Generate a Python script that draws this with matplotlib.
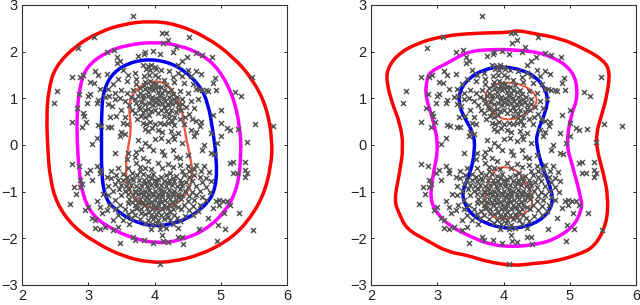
import numpy as np
import matplotlib
matplotlib.use("Agg")
import matplotlib.pyplot as plt
from matplotlib.path import Path
from matplotlib.patches import PathPatch

plt.rcParams['font.family'] = ['Liberation Sans', 'DejaVu Sans']

# puntos dispersos, los mismos en los dos paneles
outer_points = [
    (3.68, 2.76), (3.08, 2.31), (2.84, 2.07), (4.12, 2.39), (4.18, 2.39), (4.52, 2.31), (4.13, 2.19), (4.2, 2.25),
    (4.33, 2.11), (4.28, 2.0), (3.28, 2.0), (3.39, 2.04), (3.98, 2.02), (3.85, 2.0), (3.84, 1.95), (3.75, 1.91),
    (4.09, 1.95), (3.44, 1.88), (3.48, 1.81), (3.44, 1.75), (4.63, 1.98), (4.71, 1.93), (4.87, 1.88), (4.49, 1.88),
    (4.41, 1.81), (4.36, 1.71), (2.76, 1.46), (2.87, 1.45), (2.92, 1.5), (3.1, 1.59), (3.15, 1.5), (3.28, 1.52),
    (3.03, 1.36), (3.08, 1.32), (3.18, 1.21), (2.86, 1.09), (3.02, 1.09), (3.0, 1.04), (2.53, 1.16), (2.48, 0.89),
    (2.83, 0.79), (2.98, 0.91), (3.13, 0.89), (3.15, 0.96), (2.92, 0.68), (2.93, 0.62), (2.75, 0.5), (2.97, 0.5),
    (2.91, 0.38), (3.15, 0.43), (3.19, 0.41), (3.33, 0.61), (3.3, 0.39), (3.35, 0.39), (3.13, 0.14), (3.05, 0.02),
    (3.4, -0.18), (2.75, -0.41), (2.86, -0.44), (3.13, -0.44), (3.18, -0.54), (3.03, -0.54), (2.98, -0.61),
    (3.05, -0.76), (3.18, -0.61), (2.87, -0.75), (2.91, -0.84), (2.78, -0.91), (2.82, -1.04), (2.87, -0.89),
    (2.72, -1.26), (2.95, -1.39), (3.0, -1.32), (3.13, -1.21), (3.18, -1.32), (3.2, -1.46), (3.05, -1.57),
    (3.1, -1.61), (3.1, -1.77), (3.18, -1.79), (3.25, -1.75), (3.38, -1.82), (3.45, -1.75), (3.48, -2.09),
    (3.68, -1.98), (3.7, -2.04), (3.84, -2.04), (3.98, -2.09), (4.13, -2.05), (4.2, -2.07), (4.12, -1.93),
    (4.36, -1.98), (4.41, -1.98), (4.43, -2.13), (4.08, -2.54), (4.67, -1.79), (4.81, -1.57), (4.94, -2.05),
    (4.96, -1.71), (5.07, -1.81), (5.48, -1.82), (5.27, -1.46), (5.05, -1.46), (4.98, -1.18), (5.04, -1.19),
    (5.09, -1.21), (5.14, -1.29), (4.93, -1.21), (4.88, -1.36), (4.98, -1.29), (5.14, -0.39), (5.19, -0.36),
    (5.36, -0.36), (5.36, -0.54), (5.39, -0.61), (5.36, -0.68), (5.19, -0.61), (5.24, -0.61), (5.39, 0.07),
    (5.79, 0.41), (5.52, 0.44), (5.47, 1.45), (5.21, 1.13), (5.3, 1.06), (5.01, 0.76), (5.01, 0.48), (4.88, 0.64),
    (5.09, 0.36), (5.14, 0.32), (5.26, 0.34), (4.91, 1.43), (4.88, 1.32), (4.93, 1.18), (4.78, 1.18), (4.8, 1.15),
    (4.72, 1.18), (4.67, 1.21), (4.62, 1.19), (5.0, 0.2), (4.95, 0.05), (4.85, 0.25), (4.75, 0.0), (4.72, -0.1),
    (4.85, -0.18), (4.9, -0.2), (4.6, 0.2), (4.68, 0.4),
]

upper_points = [
    (3.82, 1.72), (3.9, 1.7), (3.95, 1.72), (4.0, 1.68), (3.87, 1.62), (3.93, 1.6), (4.02, 1.62), (4.1, 1.6),
    (4.22, 1.58), (4.35, 1.55), (4.5, 1.6), (4.62, 1.58), (4.7, 1.52), (4.55, 1.48), (4.42, 1.48), (4.28, 1.45),
    (3.7, 1.55), (3.6, 1.5), (3.52, 1.6), (3.45, 1.42), (3.38, 1.3), (3.3, 1.2), (3.58, 1.38), (3.72, 1.42),
    (3.84, 1.48), (3.92, 1.5), (4.0, 1.5), (4.06, 1.45), (4.15, 1.4), (4.3, 1.35), (4.45, 1.32), (4.58, 1.3),
    (3.85, 1.36), (3.93, 1.38), (3.97, 1.33), (4.03, 1.3), (4.1, 1.25), (4.18, 1.28), (4.25, 1.18), (4.38, 1.15),
    (4.5, 1.12), (3.4, 1.12), (3.5, 1.18), (3.58, 1.12), (3.68, 1.18), (3.78, 1.22), (3.86, 1.2), (3.92, 1.22),
    (3.98, 1.18), (4.05, 1.14), (4.12, 1.12), (3.25, 1.02), (3.32, 1.05), (3.4, 0.98), (3.48, 1.0), (3.55, 0.95),
    (3.65, 1.02), (3.75, 1.05), (3.82, 1.08), (3.9, 1.05), (3.96, 1.02), (4.02, 1.0), (4.08, 1.05), (4.15, 1.0),
    (4.22, 1.02), (4.3, 0.98), (4.42, 0.98), (4.55, 0.95), (4.65, 0.98), (3.3, 0.88), (3.36, 0.84), (3.62, 0.85),
    (3.72, 0.9), (3.8, 0.92), (3.86, 0.88), (3.92, 0.9), (3.98, 0.85), (4.05, 0.88), (4.12, 0.9), (4.2, 0.86),
    (4.27, 0.88), (4.35, 0.85), (4.48, 0.82), (4.6, 0.8), (3.5, 0.75), (3.66, 0.74), (3.78, 0.78), (3.85, 0.74),
    (3.9, 0.78), (4.0, 0.74), (4.1, 0.76), (4.18, 0.72), (4.25, 0.76), (4.33, 0.7), (4.4, 0.74), (4.52, 0.66),
    (3.42, 0.62), (3.55, 0.6), (3.8, 0.62), (3.86, 0.6), (3.92, 0.65), (4.15, 0.62), (4.22, 0.58), (4.3, 0.6),
    (4.56, 0.56), (4.62, 0.52), (3.52, 0.48), (3.58, 0.44), (3.82, 0.48), (3.87, 0.45), (3.93, 0.5), (4.0, 0.45),
    (4.08, 0.48), (4.14, 0.44), (4.2, 0.48), (4.3, 0.42), (4.45, 0.45), (4.7, 0.5), (3.5, 0.28), (3.55, 0.24),
    (3.48, 0.2), (3.85, 0.35), (3.9, 0.3), (3.96, 0.36), (4.05, 0.32), (4.12, 0.28), (4.25, 0.3), (4.28, 0.2),
    (4.35, 0.25), (4.55, 0.32), (4.62, 0.28),
]

upper_core = [
    (3.72, 1.3), (3.78, 1.12), (3.84, 1.28), (3.9, 1.14), (3.95, 1.26), (4.01, 1.22), (4.06, 1.24), (4.14, 1.18),
    (4.2, 1.14), (4.28, 1.1), (4.34, 1.02), (3.7, 0.98), (3.76, 0.82), (3.83, 1.0), (3.94, 0.96), (4.0, 0.92),
    (4.07, 0.96), (4.16, 0.94), (4.24, 0.95), (4.32, 0.92), (4.42, 0.88), (3.7, 0.68), (3.82, 0.7), (3.95, 0.72),
    (4.05, 0.68), (4.14, 0.82), (4.22, 0.66), (4.36, 0.78), (4.46, 0.6), (3.74, 0.55), (4.26, 0.52), (4.38, 0.55),
]

bridge_points = [
    (3.75, 0.1), (3.85, 0.05), (4.0, 0.12), (4.1, 0.14), (4.2, 0.08), (4.3, 0.12), (4.42, 0.04), (3.8, -0.08),
    (3.92, -0.02), (3.98, -0.1), (4.12, -0.12), (4.28, -0.1), (3.6, -0.18), (3.72, -0.15), (3.7, -0.25),
    (3.82, -0.28), (4.15, -0.22), (4.32, -0.25), (4.38, -0.28), (4.5, -0.22), (3.58, -0.3),
]

lower_points = [
    (3.72, -0.38), (3.9, -0.35), (4.05, -0.38), (4.2, -0.4), (4.38, -0.42), (4.5, -0.45), (4.62, -0.42), (4.75, -0.44),
    (3.35, -0.55), (3.45, -0.5), (3.6, -0.5), (3.78, -0.48), (3.86, -0.5), (3.95, -0.52), (4.12, -0.5), (4.28, -0.48),
    (4.42, -0.55), (4.52, -0.55), (4.6, -0.52), (4.7, -0.55), (4.82, -0.58), (3.28, -0.68), (3.34, -0.7), (3.42, -0.65),
    (3.52, -0.62), (3.58, -0.68), (3.66, -0.6), (3.74, -0.65), (3.82, -0.62), (3.9, -0.66), (3.98, -0.62),
    (4.18, -0.65), (4.24, -0.6), (4.33, -0.66), (4.45, -0.65), (4.52, -0.68), (4.6, -0.65), (4.68, -0.68),
    (4.78, -0.7), (3.45, -0.76), (3.52, -0.75), (3.6, -0.78), (3.68, -0.74), (3.76, -0.76), (3.84, -0.74),
    (3.92, -0.78), (4.0, -0.75), (4.06, -0.72), (4.14, -0.78), (4.22, -0.75), (4.3, -0.78), (4.38, -0.74),
    (4.48, -0.8), (4.56, -0.78), (4.72, -0.8), (4.85, -0.78), (3.3, -0.88), (3.4, -0.84), (3.5, -0.86), (3.57, -0.88),
    (3.65, -0.85), (3.72, -0.88), (3.8, -0.85), (3.88, -0.88), (3.95, -0.86), (4.03, -0.88), (4.1, -0.85),
    (4.18, -0.88), (4.26, -0.86), (4.34, -0.88), (4.42, -0.85), (4.5, -0.9), (4.62, -0.88), (4.78, -0.9),
    (3.38, -0.98), (3.46, -0.95), (3.55, -0.98), (3.62, -0.95), (3.7, -0.98), (3.78, -0.95), (3.85, -0.98),
    (3.92, -0.96), (4.0, -0.98), (4.08, -0.95), (4.15, -0.98), (4.22, -0.96), (4.3, -0.98), (4.38, -0.95),
    (4.46, -0.98), (4.56, -1.0), (4.68, -0.98), (4.84, -1.0), (3.22, -1.05), (3.3, -1.08), (3.5, -1.08), (3.6, -1.05),
    (3.68, -1.08), (3.75, -1.05), (3.82, -1.08), (3.9, -1.06), (3.97, -1.08), (4.05, -1.06), (4.12, -1.08),
    (4.2, -1.06), (4.28, -1.08), (4.35, -1.06), (4.42, -1.08), (4.52, -1.1), (4.62, -1.08), (4.72, -1.12),
    (3.4, -1.18), (3.62, -1.15), (3.7, -1.18), (3.78, -1.15), (3.85, -1.18), (3.92, -1.15), (4.0, -1.18),
    (4.08, -1.15), (4.16, -1.18), (4.24, -1.16), (4.32, -1.18), (4.4, -1.15), (4.5, -1.2), (4.6, -1.18), (4.78, -1.18),
    (3.32, -1.28), (3.48, -1.28), (3.6, -1.25), (3.7, -1.28), (3.76, -1.25), (3.84, -1.28), (3.9, -1.25),
    (3.98, -1.28), (4.06, -1.25), (4.14, -1.28), (4.22, -1.26), (4.3, -1.28), (4.45, -1.28), (4.58, -1.3),
    (4.68, -1.28), (3.28, -1.4), (3.4, -1.38), (3.55, -1.38), (3.72, -1.36), (3.8, -1.38), (3.88, -1.36),
    (3.96, -1.38), (4.04, -1.36), (4.12, -1.38), (4.2, -1.36), (4.28, -1.38), (4.4, -1.38), (4.52, -1.4),
    (4.65, -1.42), (3.45, -1.5), (3.6, -1.48), (3.7, -1.5), (3.86, -1.48), (3.94, -1.5), (4.02, -1.48),
    (4.1, -1.5), (4.18, -1.48), (4.3, -1.5), (4.46, -1.52), (4.58, -1.5), (3.38, -1.6), (3.52, -1.6), (3.78, -1.58),
    (3.9, -1.6), (3.98, -1.58), (4.06, -1.6), (4.14, -1.58), (4.24, -1.6), (4.38, -1.62), (3.62, -1.7), (3.85, -1.68),
    (3.96, -1.7), (4.04, -1.68), (4.12, -1.72), (4.28, -1.7), (3.95, -1.8), (4.08, -1.8), (4.18, -1.78), (4.36, -1.78),
]

lower_core = [
    (3.66, -0.7), (3.78, -0.56), (3.7, -1.0), (3.86, -0.82), (3.94, -0.7), (4.1, -0.68), (4.02, -0.82), (4.2, -0.82),
    (4.28, -0.7), (4.4, -0.82), (3.8, -1.02), (3.88, -1.12), (3.96, -1.02), (4.04, -1.12), (4.12, -1.02), (4.2, -1.12),
    (4.28, -1.03), (4.36, -1.12), (3.66, -1.22), (3.74, -1.34), (3.82, -1.22), (3.94, -1.22), (4.02, -1.32), (4.1, -1.22),
    (4.18, -1.32), (4.26, -1.22), (4.36, -1.32), (3.66, -1.42), (3.8, -1.46), (3.92, -1.44), (4.06, -1.44), (4.24, -1.44),
    (3.64, -1.56), (4.0, -1.54), (4.2, -1.54), (4.34, -1.56),
]

# contornos izquierda
left_red = [(2.37, 0.6), (2.4, 1.18), (2.5, 1.68), (2.82, 2.14), (3.18, 2.43), (3.53, 2.59), (3.93, 2.66), (4.33, 2.59),
            (4.78, 2.32), (5.19, 1.89), (5.49, 1.39), (5.69, 0.82), (5.78, 0.11), (5.76, -0.46), (5.64, -1.11),
            (5.39, -1.68), (5.09, -2.07), (4.68, -2.36), (4.28, -2.5), (3.93, -2.52), (3.53, -2.39), (3.13, -2.11),
            (2.77, -1.75), (2.52, -1.25), (2.42, -0.68), (2.39, -0.11)]
left_magenta = [(2.83, 0.68), (2.87, 1.25), (2.97, 1.68), (3.28, 2.0), (3.58, 2.14), (3.98, 2.21), (4.38, 2.14),
                (4.73, 1.93), (4.98, 1.61), (5.19, 1.04), (5.29, 0.39), (5.31, -0.18), (5.26, -0.89), (5.09, -1.39),
                (4.78, -1.82), (4.38, -2.05), (4.03, -2.11), (3.68, -2.0), (3.38, -1.82), (3.08, -1.54),
                (2.92, -1.11), (2.86, -0.54), (2.83, 0.11)]
left_blue = [(3.2, 0.68), (3.23, 1.18), (3.38, 1.57), (3.68, 1.8), (4.03, 1.84), (4.38, 1.68), (4.68, 1.29), (4.81, 0.89),
             (4.88, 0.32), (4.94, -0.32), (4.93, -0.89), (4.81, -1.25), (4.48, -1.61), (4.03, -1.76), (3.68, -1.64),
             (3.38, -1.36), (3.25, -1.11), (3.2, -0.61), (3.2, 0.11)]
left_orange = [(3.62, 0.96), (3.73, 1.21), (3.93, 1.37), (4.18, 1.34), (4.33, 1.04), (4.43, 0.68), (4.46, 0.25),
               (4.53, -0.18), (4.58, -0.61), (4.53, -0.96), (4.33, -1.29), (4.03, -1.39), (3.78, -1.25), (3.6, -0.96),
               (3.56, -0.54), (3.6, -0.04), (3.65, 0.32), (3.62, 0.68)]

# contornos derecha
right_red = [(2.24, 1.61), (2.39, 1.93), (2.69, 2.18), (3.1, 2.34), (3.6, 2.4), (4.1, 2.41), (4.2, 2.46), (4.45, 2.39),
             (4.85, 2.29), (5.21, 2.07), (5.51, 1.82), (5.61, 1.57), (5.56, 1.04), (5.48, 0.64), (5.4, 0.25),
             (5.41, -0.11), (5.51, -0.61), (5.58, -1.11), (5.56, -1.68), (5.38, -2.18), (5.11, -2.36), (4.75, -2.5),
             (4.45, -2.54), (4.15, -2.59), (3.75, -2.5), (3.45, -2.36), (3.15, -2.29), (2.84, -2.04), (2.54, -1.81),
             (2.42, -1.46), (2.35, -1.18), (2.43, -0.61), (2.49, -0.04), (2.44, 0.46), (2.32, 0.89), (2.24, 1.32)]
right_magenta = [(2.89, 1.57), (3.15, 1.75), (3.45, 2.0), (3.8, 2.05), (4.2, 2.04), (4.65, 1.96), (5.06, 1.61),
                 (5.13, 1.04), (5.01, 0.61), (4.95, 0.0), (5.03, -0.39), (5.18, -1.18), (5.18, -1.39), (5.06, -1.75),
                 (4.75, -2.04), (4.45, -2.14), (4.15, -2.18), (3.8, -2.14), (3.5, -1.96), (3.2, -1.75), (2.97, -1.43),
                 (2.89, -1.11), (2.94, -0.61), (3.02, -0.04), (2.94, 0.54), (2.82, 1.04), (2.84, 1.39)]
right_blue = [(3.35, 1.21), (3.5, 1.46), (3.7, 1.61), (3.95, 1.69), (4.3, 1.61), (4.55, 1.39), (4.68, 1.04), (4.63, 0.68),
              (4.5, 0.25), (4.5, -0.04), (4.6, -0.54), (4.73, -0.96), (4.74, -1.32), (4.55, -1.64), (4.2, -1.8),
              (3.85, -1.75), (3.55, -1.54), (3.4, -1.25), (3.38, -0.96), (3.5, -0.61), (3.57, -0.11), (3.55, 0.25),
              (3.4, 0.61), (3.32, 0.89)]
right_orange_top = [(3.7, 1.04), (3.8, 1.25), (4.0, 1.35), (4.3, 1.3), (4.53, 1.04), (4.45, 0.75), (4.1, 0.5), (3.85, 0.65)]
right_orange_bottom = [(3.7, -1.18), (3.8, -0.61), (4.0, -0.43), (4.3, -0.61), (4.45, -1.18), (4.4, -1.43), (4.05, -1.61),
                       (3.8, -1.54)]

ticks_x = [2, 3, 4, 5, 6]
ticks_y = [-3, -2, -1, 0, 1, 2, 3]

points = outer_points + upper_points + upper_core + bridge_points + lower_points + lower_core
xs = [p[0] for p in points]
ys = [p[1] for p in points]


def closed_curve(ax, pts, color, lw):
    # curva suave cerrada, los vertices hacen de puntos de control
    pts = np.array(pts)
    n = len(pts)
    mids = (pts + np.roll(pts, -1, axis=0)) / 2
    verts = [mids[-1]]
    codes = [Path.MOVETO]
    for i in range(n):
        verts += [pts[i], mids[i]]
        codes += [Path.CURVE3, Path.CURVE3]
    ax.add_patch(PathPatch(Path(verts, codes), fc='none', ec=color, lw=lw, zorder=2))


fig = plt.figure(figsize=(6.4, 3.05), dpi=100)
ax1 = fig.add_axes([22 / 640, 1 - 285 / 305, 265 / 640, 280 / 305])
ax2 = fig.add_axes([371 / 640, 1 - 285 / 305, 265 / 640, 280 / 305])

closed_curve(ax1, left_red, '#ff0000', 2.5)
closed_curve(ax1, left_magenta, '#ff00ff', 2.5)
closed_curve(ax1, left_blue, '#0000ee', 2.5)
closed_curve(ax1, left_orange, '#ee5a40', 1.7)

closed_curve(ax2, right_red, '#ff0000', 2.5)
closed_curve(ax2, right_magenta, '#ff00ff', 2.5)
closed_curve(ax2, right_blue, '#0000ee', 2.5)
closed_curve(ax2, right_orange_top, '#ee5a40', 1.5)
closed_curve(ax2, right_orange_bottom, '#ee5a40', 1.5)

for ax in (ax1, ax2):
    ax.scatter(xs, ys, marker='x', s=13, c='#555555', linewidths=1.1, zorder=3)
    ax.set_xlim(2, 6)
    ax.set_ylim(-3, 3)
    ax.set_xticks(ticks_x)
    ax.set_yticks(ticks_y)
    ax.set_yticklabels([str(t).replace('-', '\u2212') for t in ticks_y])
    ax.tick_params(direction='in', top=True, right=True, length=2.5, width=0.7, labelsize=10.5, pad=3, colors='#222222')
    for s in ax.spines.values():
        s.set_linewidth(0.8)
        s.set_color('#333333')

fig.savefig('out.png', dpi=100)
